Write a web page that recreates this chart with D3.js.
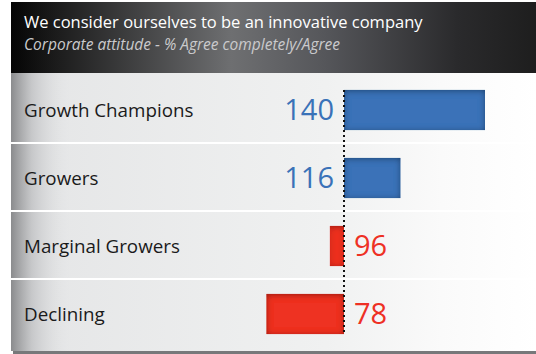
<!DOCTYPE html>
<html>
<head>
<meta charset="utf-8">
<script src="https://cdn.jsdelivr.net/npm/d3@7/dist/d3.min.js"></script>
<style>
  html, body { margin: 0; padding: 0; background: #fff; }
  svg { display: block; }
</style>
</head>
<body>
<svg id="chart" width="536" height="354"></svg>
<script>
// Index values (100 = average) per company group
const categories = ["Growth Champions", "Growers", "Marginal Growers", "Declining"];
const values = [140, 116, 96, 78];
const baseline = 100;
const title = "We consider ourselves to be an innovative company";
const subtitle = "Corporate attitude - % Agree completely/Agree";

const svg = d3.select("#chart");
const W = 536, H = 354;
const panelX = 11, headTop = 2, headBottom = 73, bodyBottom = 351;

const defs = svg.append("defs");

// header background: dark edges, lighter grey sheen in the middle
const hg = defs.append("linearGradient").attr("id", "headGrad")
  .attr("x1", "0%").attr("x2", "100%").attr("y1", "0%").attr("y2", "0%");
[["0%", "#050505"], ["8%", "#1a1a1a"], ["42%", "#6e6f71"], ["60%", "#55565a"], ["85%", "#2a2a2c"], ["100%", "#1e1e1e"]]
  .forEach(([o, c]) => hg.append("stop").attr("offset", o).attr("stop-color", c));

// body background: light grey fading to white at the right
const bg = defs.append("linearGradient").attr("id", "bodyGrad")
  .attr("x1", "0%").attr("x2", "100%");
[["0%", "#e4e5e6"], ["60%", "#f0f1f1"], ["82%", "#fafafa"], ["100%", "#ffffff"]]
  .forEach(([o, c]) => bg.append("stop").attr("offset", o).attr("stop-color", c));

// dark shading along the left edge of the body
const lg = defs.append("linearGradient").attr("id", "leftGrad")
  .attr("x1", "0%").attr("x2", "100%");
[["0%", "#8a8b8d", 1], ["35%", "#c0c1c3", 0.8], ["100%", "#e4e5e6", 0]]
  .forEach(([o, c, a]) => lg.append("stop").attr("offset", o).attr("stop-color", c).attr("stop-opacity", a));

// inner shadow for bars, heavier along the top edge
const f = defs.append("filter").attr("id", "inset")
  .attr("x", "-10%").attr("y", "-20%").attr("width", "120%").attr("height", "140%");
f.append("feFlood").attr("flood-color", "#000").attr("flood-opacity", 0.7).attr("result", "flood");
f.append("feComposite").attr("in", "flood").attr("in2", "SourceAlpha").attr("operator", "out").attr("result", "outside");
f.append("feGaussianBlur").attr("in", "outside").attr("stdDeviation", 3).attr("result", "blur");
f.append("feOffset").attr("in", "blur").attr("dy", 1).attr("result", "off");
f.append("feComposite").attr("in", "off").attr("in2", "SourceAlpha").attr("operator", "in").attr("result", "shadow");
const fm = f.append("feMerge");
fm.append("feMergeNode").attr("in", "SourceGraphic");
fm.append("feMergeNode").attr("in", "shadow");

// header
svg.append("rect").attr("x", panelX).attr("y", headTop)
  .attr("width", W - panelX).attr("height", headBottom - headTop)
  .attr("fill", "url(#headGrad)");
svg.append("text").attr("x", 24).attr("y", 28)
  .attr("font-family", "Open Sans, sans-serif").attr("font-size", 16.5)
  .attr("fill", "#ffffff").text(title);
svg.append("text").attr("x", 24).attr("y", 50)
  .attr("font-family", "Open Sans, sans-serif").attr("font-size", 15.5)
  .attr("font-style", "italic")
  .attr("fill", "#cacacc").text(subtitle);

// body
svg.append("rect").attr("x", panelX).attr("y", headBottom)
  .attr("width", W - panelX).attr("height", bodyBottom - headBottom)
  .attr("fill", "url(#bodyGrad)");
svg.append("rect").attr("x", panelX).attr("y", headBottom)
  .attr("width", 60).attr("height", bodyBottom - headBottom)
  .attr("fill", "url(#leftGrad)");
svg.append("rect").attr("x", 13).attr("y", bodyBottom)
  .attr("width", W - 13).attr("height", H - bodyBottom)
  .attr("fill", "#77787a");

// scales
const y = d3.scaleBand().domain(categories).range([76, 348])
  .paddingInner(0.41).paddingOuter(0.205);
const x = d3.scaleLinear().domain([baseline, 140]).range([344, 485]);

// row separators between categories
const step = y.step();
svg.append("g").selectAll("line")
  .data(categories.slice(1))
  .join("line")
  .attr("x1", panelX).attr("x2", W)
  .attr("y1", d => y(d) - (step - y.bandwidth()) / 2 - 1)
  .attr("y2", d => y(d) - (step - y.bandwidth()) / 2 - 1)
  .attr("stroke", "#ffffff").attr("stroke-width", 2);

const data = categories.map((c, i) => ({ cat: c, v: values[i] }));
const blue = "#3a72b8", red = "#ee3024";

// bars from the baseline
svg.append("g").selectAll("rect")
  .data(data)
  .join("rect")
  .attr("x", d => Math.min(x(d.v), x(baseline)))
  .attr("y", d => y(d.cat))
  .attr("width", d => Math.abs(x(d.v) - x(baseline)))
  .attr("height", y.bandwidth())
  .attr("fill", d => d.v >= baseline ? blue : red)
  .attr("filter", "url(#inset)");

// dotted baseline
svg.append("line")
  .attr("x1", x(baseline)).attr("x2", x(baseline))
  .attr("y1", y(categories[0])).attr("y2", y(categories[3]) + y.bandwidth())
  .attr("stroke", "#111").attr("stroke-width", 2)
  .attr("stroke-dasharray", "2,3");

// category labels
svg.append("g").selectAll("text")
  .data(data)
  .join("text")
  .attr("x", 24)
  .attr("y", d => y(d.cat) + y.bandwidth() / 2)
  .attr("dy", "0.35em")
  .attr("font-family", "Open Sans, sans-serif").attr("font-size", 18.8)
  .attr("fill", "#1a1a1a")
  .text(d => d.cat);

// value labels: left of the baseline for above-average, right for below
svg.append("g").selectAll("text")
  .data(data)
  .join("text")
  .attr("x", d => d.v >= baseline ? x(baseline) - 10 : x(baseline) + 10)
  .attr("y", d => y(d.cat) + y.bandwidth() / 2)
  .attr("dy", "0.36em")
  .attr("text-anchor", d => d.v >= baseline ? "end" : "start")
  .attr("font-family", "Open Sans, sans-serif").attr("font-size", 29)
  .attr("fill", d => d.v >= baseline ? blue : red)
  .text(d => d.v);
</script>
</body>
</html>
